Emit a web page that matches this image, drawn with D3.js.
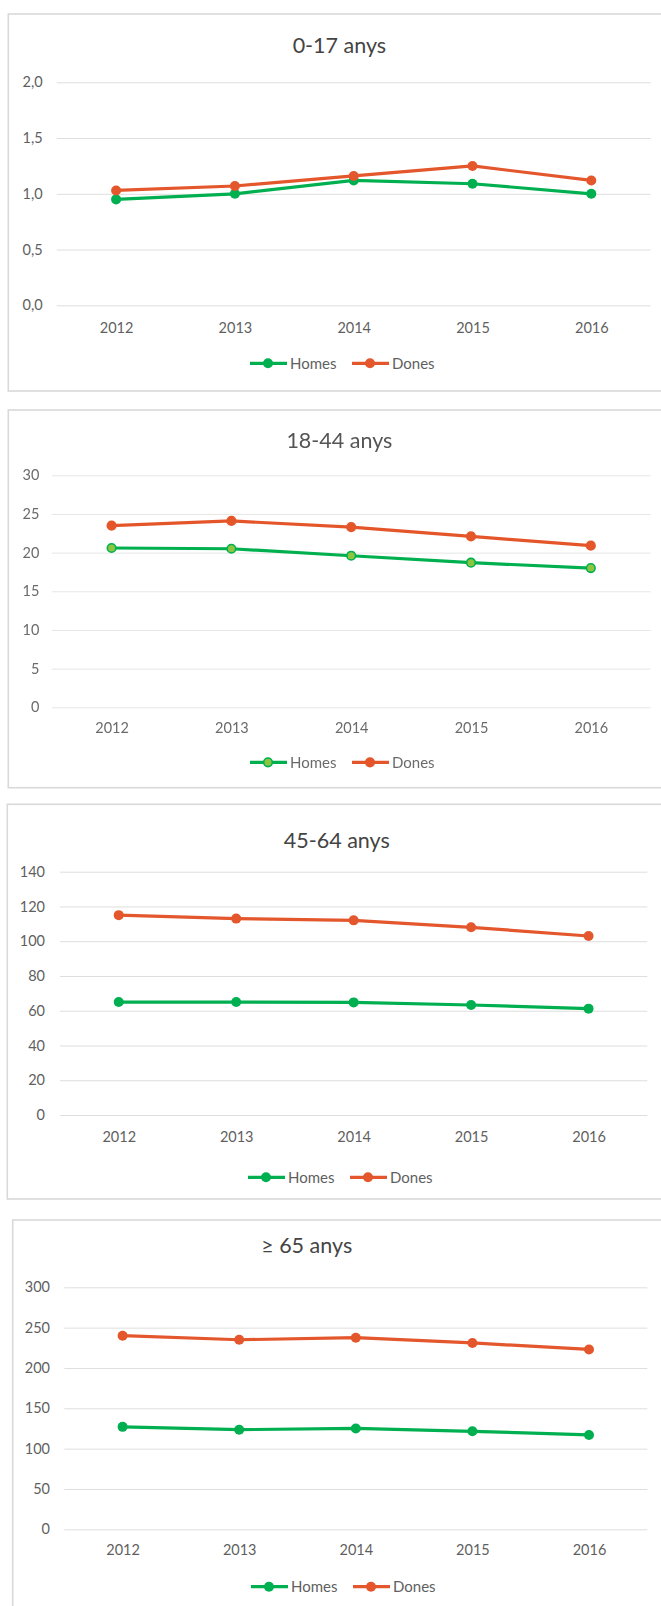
<!DOCTYPE html>
<html>
<head>
<meta charset="utf-8">
<script src="https://cdn.jsdelivr.net/npm/d3@7"></script>
<style>
  html, body { margin: 0; padding: 0; background: #fff; }
  svg { display: block; font-family: Lato, "Open Sans", sans-serif; }
</style>
</head>
<body>
<svg id="chart" width="661" height="1606"></svg>
<script>
// Years on the category axis
const years = ["2012", "2013", "2014", "2015", "2016"];

// Series per age group
const homes0_17  = [0.95, 1.00, 1.12, 1.09, 1.00];
const dones0_17  = [1.03, 1.07, 1.16, 1.25, 1.12];
const homes18_44 = [20.6, 20.5, 19.6, 18.7, 18.0];
const dones18_44 = [23.5, 24.1, 23.3, 22.1, 20.9];
const homes45_64 = [65, 65, 64.8, 63.3, 61.2];
const dones45_64 = [115, 113, 112, 108, 103];
const homes65    = [127, 123.5, 125, 121.5, 117];
const dones65    = [240, 235, 237.5, 231, 223];

// Value-axis tick values
const ticks0_17  = [0, 0.5, 1, 1.5, 2];
const ticks18_44 = [0, 5, 10, 15, 20, 25, 30];
const ticks45_64 = [0, 20, 40, 60, 80, 100, 120, 140];
const ticks65    = [0, 50, 100, 150, 200, 250, 300];

// Titles and legend labels
const titles = ["0-17 anys", "18-44 anys", "45-64 anys", "\u2265 65 anys"];
const seriesNames = ["Homes", "Dones"];

const caFormat = d3.formatLocale({decimal: ",", thousands: ".", grouping: [3], currency: ["", "€"]});

const panels = [
  {title: titles[0], homes: homes0_17, dones: dones0_17, ticks: ticks0_17, fmt: caFormat.format(".1f")},
  {title: titles[1], homes: homes18_44, dones: dones18_44, ticks: ticks18_44, fmt: caFormat.format("d")},
  {title: titles[2], homes: homes45_64, dones: dones45_64, ticks: ticks45_64, fmt: caFormat.format("d")},
  {title: titles[3], homes: homes65, dones: dones65, ticks: ticks65, fmt: caFormat.format("d")}
];

// Frame and plot geometry of each panel
const layout = [
  {bx: 8.3, by: 14, bb: 391, left: 56.7, right: 650.7, y0: 305.3, y1: 82.3, pad: 14, xLab: 333, tx: 339.4, ty: 52.7, ly: 363.3, lx: 250, soft: false},
  {bx: 8.3, by: 410, bb: 787.7, left: 51.7, right: 650.7, y0: 707.3, y1: 475.3, pad: 12.4, xLab: 733, tx: 339.4, ty: 448.3, ly: 762.3, lx: 250, soft: true},
  {bx: 7.3, by: 804.3, bb: 1199, left: 60, right: 647.3, y0: 1115, y1: 871.7, pad: 15, xLab: 1141.7, tx: 336.8, ty: 847.7, ly: 1177.3, lx: 248, soft: false},
  {bx: 12.7, by: 1220, bb: 1640, left: 64.3, right: 647.3, y0: 1529.3, y1: 1287.3, pad: 14.3, xLab: 1555, tx: 306.7, ty: 1252.7, ly: 1586.7, lx: 251, soft: false}
];

const GREEN = "#00b050";
const ORANGE = "#e4572c";
const svg = d3.select("#chart");

const defs = svg.append("defs");
defs.append("filter").attr("id", "soft")
  .attr("x", "-5%").attr("y", "-5%").attr("width", "110%").attr("height", "110%")
  .append("feGaussianBlur").attr("stdDeviation", 0.45);

panels.forEach((p, i) => {
  const L = layout[i];
  const g = svg.append("g");
  if (L.soft) g.attr("filter", "url(#soft)");
  const textCol = L.soft ? "#6b6b6b" : "#5f5f5f";

  // frame
  g.append("rect")
    .attr("x", L.bx).attr("y", L.by)
    .attr("width", 680 - L.bx).attr("height", L.bb - L.by)
    .attr("fill", "#fff").attr("stroke", "#d9d9d9").attr("stroke-width", 1.6);

  const x = d3.scalePoint().domain(years).range([L.left, L.right]).padding(0.5);
  const y = d3.scaleLinear().domain([0, d3.max(p.ticks)]).range([L.y0, L.y1]);

  // value axis with gridlines
  const ya = g.append("g")
    .attr("transform", `translate(${L.left},0)`)
    .call(d3.axisLeft(y).tickValues(p.ticks).tickFormat(p.fmt)
      .tickSize(-(L.right - L.left)).tickPadding(L.pad));
  ya.select(".domain").remove();
  ya.selectAll(".tick line").attr("stroke", L.soft ? "#e6e6e6" : "#dedede").attr("stroke-width", 1);
  ya.selectAll(".tick text")
    .attr("fill", textCol).attr("font-size", 14.5).attr("font-family", "Lato, sans-serif");

  // category axis
  const xa = g.append("g")
    .attr("transform", `translate(0,${L.y0})`)
    .call(d3.axisBottom(x).tickSize(0));
  xa.select(".domain").remove();
  xa.selectAll(".tick text")
    .attr("y", L.xLab - L.y0).attr("dy", null)
    .attr("fill", textCol).attr("font-size", 14.5).attr("font-family", "Lato, sans-serif");

  // title
  g.append("text")
    .attr("x", L.tx).attr("y", L.ty)
    .attr("text-anchor", "middle")
    .attr("font-size", 21.5).attr("fill", L.soft ? "#555" : "#444")
    .text(p.title);

  const line = d3.line().x((d, k) => x(years[k])).y(d => y(d));
  const series = [
    {name: seriesNames[0], values: p.homes, color: GREEN, fill: L.soft ? "#8cc63f" : GREEN},
    {name: seriesNames[1], values: p.dones, color: ORANGE, fill: ORANGE}
  ];

  series.forEach(s => {
    g.append("path").datum(s.values)
      .attr("d", line).attr("fill", "none")
      .attr("stroke", s.color).attr("stroke-width", 3.2).attr("stroke-linejoin", "round");
    g.selectAll(null).data(s.values).enter().append("circle")
      .attr("cx", (d, k) => x(years[k])).attr("cy", d => y(d))
      .attr("r", L.soft ? 4.3 : 5)
      .attr("fill", s.fill).attr("stroke", s.color).attr("stroke-width", L.soft ? 1.6 : 0);
  });

  // legend
  const lg = g.append("g").attr("transform", `translate(${L.lx},${L.ly})`);
  series.forEach((s, k) => {
    const ox = k * 102;
    lg.append("line").attr("x1", ox).attr("x2", ox + 37).attr("y1", 0).attr("y2", 0)
      .attr("stroke", s.color).attr("stroke-width", 3.2);
    lg.append("circle").attr("cx", ox + 18).attr("cy", 0).attr("r", L.soft ? 4.3 : 5)
      .attr("fill", s.fill).attr("stroke", s.color).attr("stroke-width", L.soft ? 1.6 : 0);
    lg.append("text").attr("x", ox + 40).attr("y", 0).attr("dy", "0.35em")
      .attr("font-size", 15).attr("fill", textCol).text(s.name);
  });
});
</script>
</body>
</html>
